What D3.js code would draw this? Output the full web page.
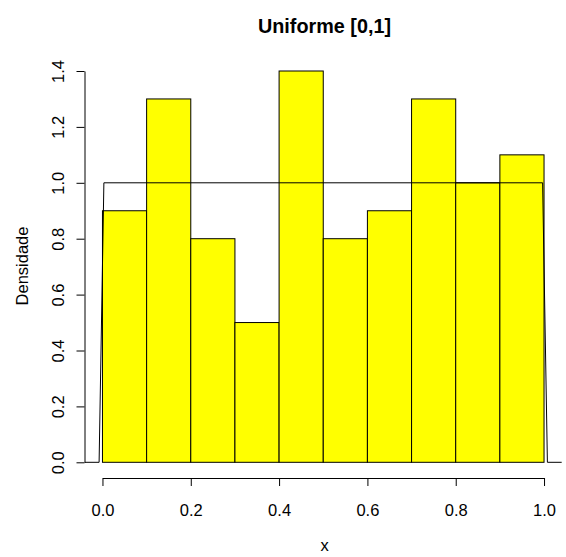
<!DOCTYPE html>
<html>
<head>
<meta charset="utf-8">
<script src="https://cdn.jsdelivr.net/npm/d3@7"></script>
<style>
  body { margin: 0; background: #fff; }
  text { font-family: "Liberation Sans", Arial, sans-serif; fill: #000; }
</style>
</head>
<body>
<svg id="chart" width="566" height="557"></svg>
<script>
// histogram bins (breaks) and densities
const breaks = [0, 0.1, 0.2, 0.3, 0.4, 0.5, 0.6, 0.7, 0.8, 0.9, 1.0];
const densities = [0.9, 1.3, 0.8, 0.5, 1.4, 0.8, 0.9, 1.3, 1.0, 1.1];

// uniform density curve, as drawn
const curveX = [-0.04, -0.0076, 0.0032, 0.9968, 1.0076, 1.04];
const curveY = [0, 0, 1, 1, 0, 0];

const xTicks = [0, 0.2, 0.4, 0.6, 0.8, 1.0];
const yTicks = [0, 0.2, 0.4, 0.6, 0.8, 1.0, 1.2, 1.4];

const svg = d3.select("#chart");

const x = d3.scaleLinear().domain([-0.04, 1.04]).range([84.8, 561.7]);
const y = d3.scaleLinear().domain([0, 1.4]).range([462.3, 71]);

// bars
svg.append("g")
  .selectAll("rect")
  .data(densities)
  .enter()
  .append("rect")
  .attr("x", (d, i) => x(breaks[i]))
  .attr("width", (d, i) => x(breaks[i + 1]) - x(breaks[i]))
  .attr("y", d => y(d))
  .attr("height", d => y(0) - y(d))
  .style("fill", "#ffff00")
  .style("stroke", "#000")
  .style("stroke-width", 1);

// density line
const line = d3.line()
  .x((d, i) => x(curveX[i]))
  .y(d => y(d));
svg.append("path")
  .attr("d", line(curveY))
  .style("fill", "none")
  .style("stroke", "#000")
  .style("stroke-width", 1);

// axes (R style: line only from first to last tick)
const xAx = d3.scaleLinear().domain([0, 1]).range([x(0), x(1)]);
const gx = svg.append("g")
  .attr("transform", "translate(0,478)")
  .call(d3.axisBottom(xAx).tickValues(xTicks).tickSize(8).tickSizeOuter(0)
        .tickFormat(d3.format(".1f")))
  .call(g => g.selectAll("path,line").style("stroke", "#000"));
gx.selectAll("text")
  .attr("y", 31.5).attr("dy", null)
  .attr("dominant-baseline", "central")
  .style("font-size", "16.5px")
  .style("font-family", null);

const yAx = d3.scaleLinear().domain([0, 1.4]).range([y(0), y(1.4)]);
const gy = svg.append("g")
  .attr("transform", "translate(84.5,0)")
  .call(d3.axisLeft(yAx).tickValues(yTicks).tickSize(8).tickSizeOuter(0)
        .tickFormat(d3.format(".1f")))
  .call(g => g.selectAll("path,line").style("stroke", "#000"));
gy.selectAll("text")
  .attr("x", null).attr("dy", null)
  .attr("transform", "translate(-26.5,0) rotate(-90)")
  .attr("text-anchor", "middle")
  .attr("dominant-baseline", "central")
  .style("font-size", "16.5px")
  .style("font-family", null);

// titles
svg.append("text")
  .attr("x", 324.5).attr("y", 33)
  .attr("text-anchor", "middle")
  .style("font-size", "19.8px")
  .style("font-weight", "bold")
  .text("Uniforme [0,1]");

svg.append("text")
  .attr("x", 324.5).attr("y", 546.5)
  .attr("text-anchor", "middle")
  .attr("dominant-baseline", "middle")
  .style("font-size", "16.5px")
  .text("x");

svg.append("text")
  .attr("transform", "translate(21.5,266) rotate(-90)")
  .attr("text-anchor", "middle")
  .attr("dominant-baseline", "central")
  .style("font-size", "16.5px")
  .text("Densidade");
</script>
</body>
</html>
